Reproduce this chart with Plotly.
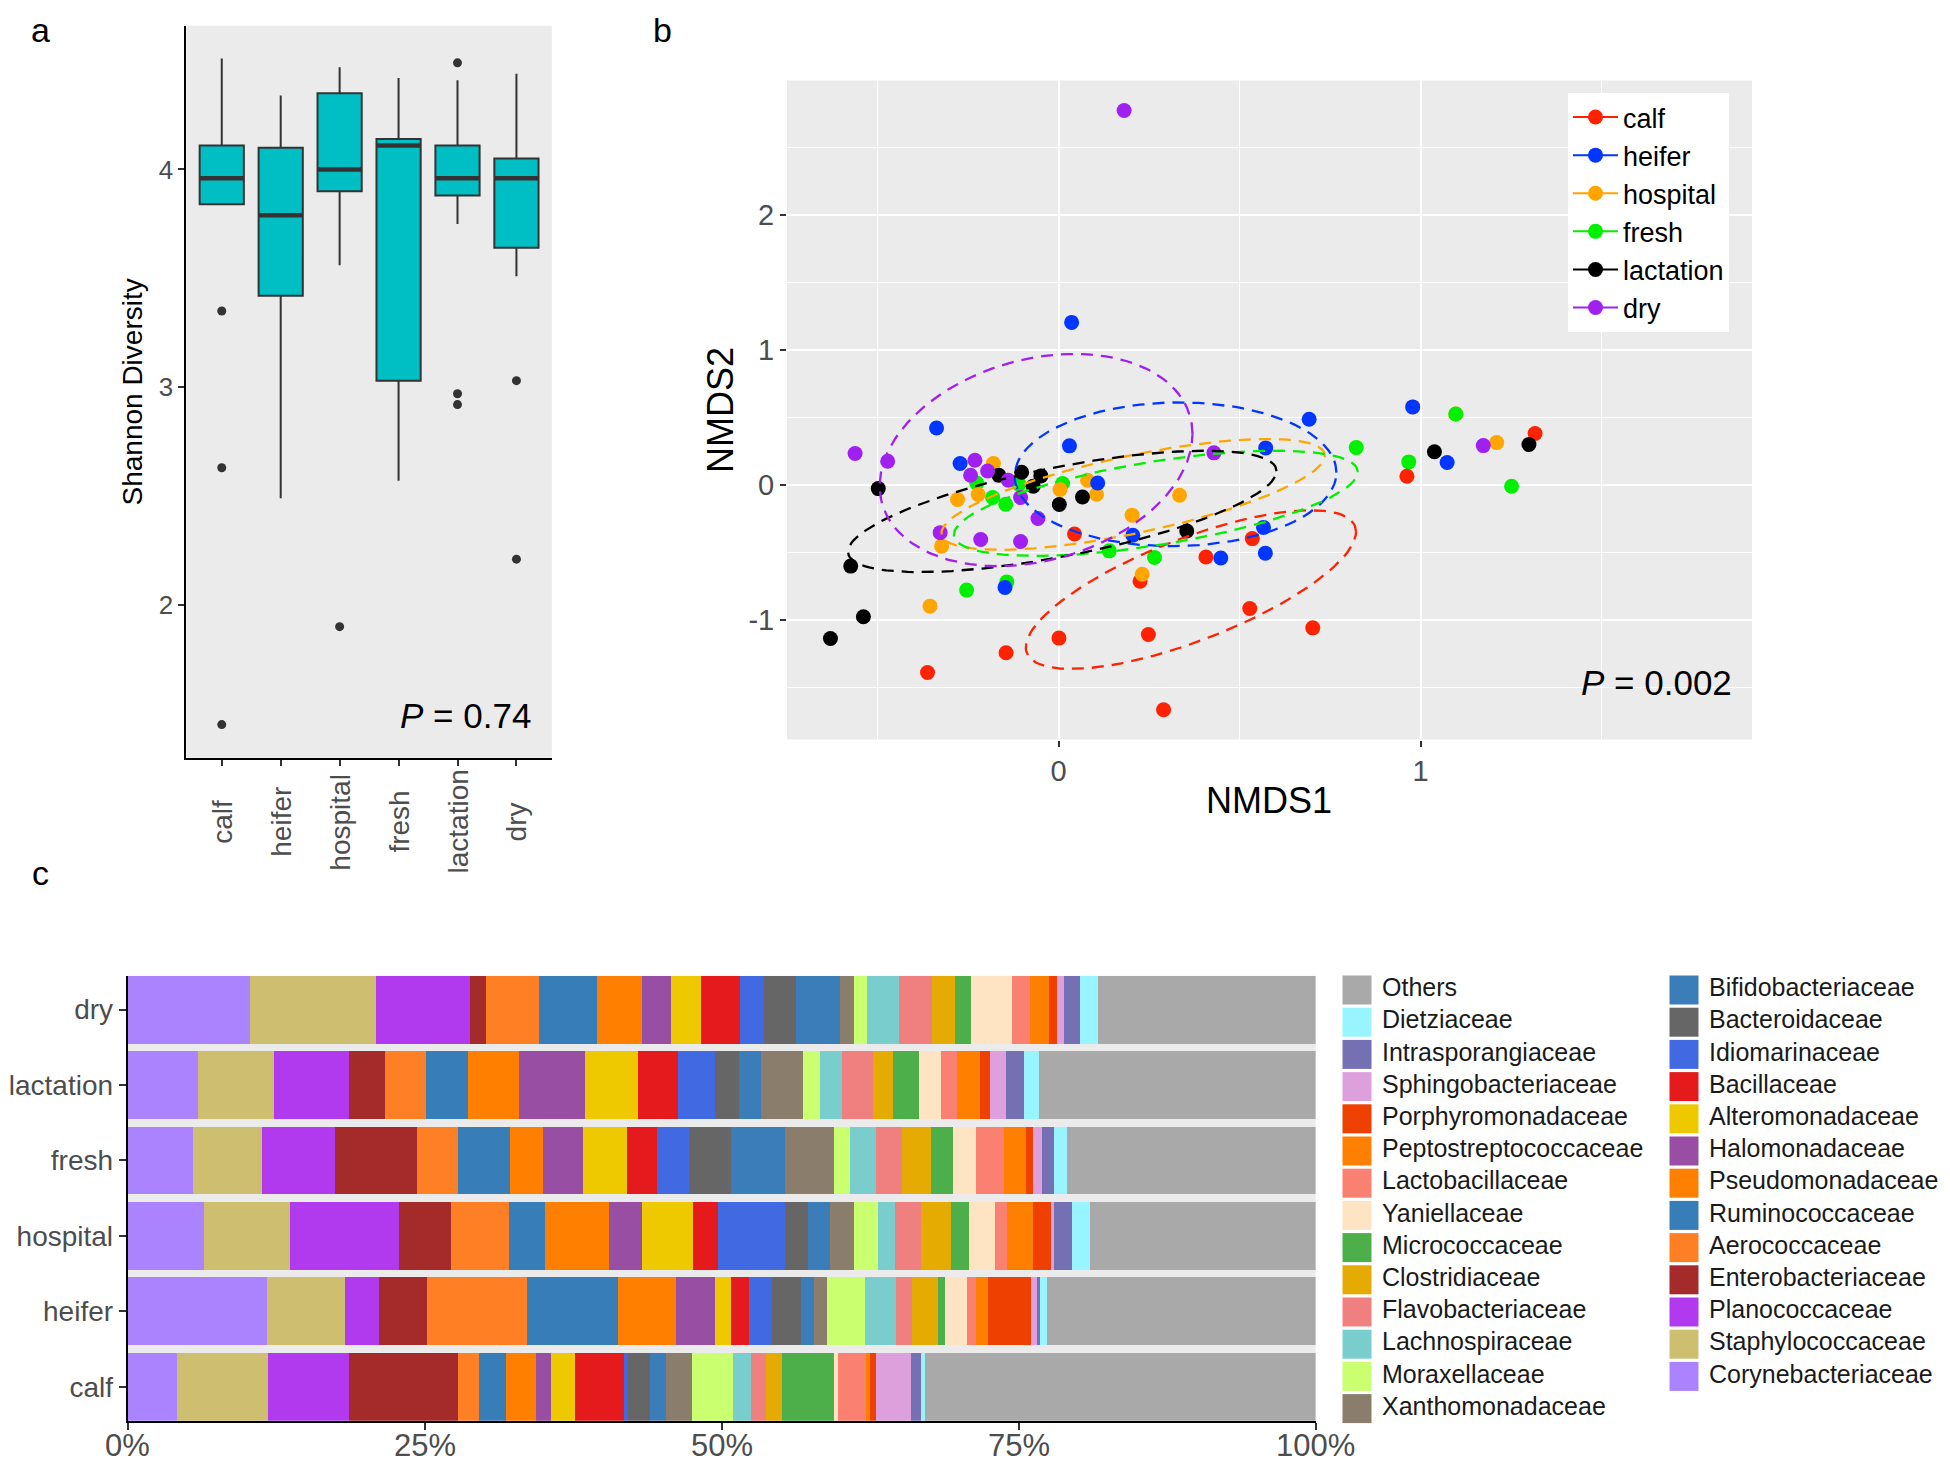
import numpy as np
import plotly.graph_objects as go

FONT = "Liberation Sans, Arial, sans-serif"
PAGE_W, PAGE_H = 1950, 1462
OFF = 8                      # default body margin of the html page
W, H = PAGE_W - OFF, PAGE_H - OFF

stages = ["calf", "heifer", "hospital", "fresh", "lactation", "dry"]
stage_colors = {"calf": "#FF2200", "heifer": "#0036FF", "hospital": "#FFA500",
                "fresh": "#00F000", "lactation": "#000000", "dry": "#A020F0"}

# ---- panel a: Shannon diversity (box stats)
shannon_q1 = [3.84, 3.42, 3.90, 3.03, 3.88, 3.64]
shannon_median = [3.96, 3.79, 4.00, 4.11, 3.96, 3.96]
shannon_q3 = [4.11, 4.10, 4.35, 4.14, 4.11, 4.05]
shannon_low = [3.84, 2.49, 3.56, 2.57, 3.75, 3.51]
shannon_high = [4.51, 4.34, 4.47, 4.42, 4.41, 4.44]
shannon_outliers = [[3.35, 2.63, 1.45], [], [1.90], [], [4.49, 2.97, 2.92], [3.03, 2.21]]

# ---- panel b: NMDS scores, one row per sample (plot order as in the figure)
nmds_stage = (["fresh"] * 12 + ["calf"] * 13 + ["hospital"] * 14 + ["heifer"] * 14
              + ["lactation"] * 13 + ["dry"] * 14 + ["fresh"])
nmds1 = [-0.226, -0.109, -0.182, -0.146, 0.011, 0.140, 0.265, -0.254, -0.143, 0.822, 0.967, 1.251,
         0.044, 0.535, 0.407, 0.225, 0.528, 0.702, 0.001, 0.248, -0.145, -0.362, 0.290, 1.316, 0.962,
         0.978, 1.097, -0.180, -0.222, -0.279, 0.004, 0.080, 0.105, 0.203, 0.334, -0.323, 0.231, -0.355, 1.210,
         0.036, -0.337, -0.272, 0.030, 0.108, 0.572, 0.692, 0.978, 1.073, 0.205, 0.566, 0.571, 0.448, -0.148,
         -0.498, -0.165, -0.102, -0.049, -0.070, 0.002, 0.066, 0.354, -0.574, -0.539, -0.630, 1.299, 1.038,
         0.181, -0.562, -0.472, -0.231, -0.243, -0.196, -0.139, -0.105, -0.057, -0.327, -0.215, -0.105, 0.429, 1.173,
         1.097]
nmds2 = [0.014, 0.004, -0.094, -0.144, 0.010, -0.490, -0.539, -0.781, -0.720, 0.276, 0.170, -0.011,
         -0.365, -0.399, -0.536, -0.715, -0.917, -1.061, -1.137, -1.110, -1.246, -1.392, -1.669, 0.381, 0.064,
         0.578, 0.525, 0.158, -0.072, -0.109, -0.035, 0.034, -0.070, -0.225, -0.077, -0.455, -0.663, -0.900, 0.313,
         1.205, 0.422, 0.158, 0.289, 0.014, 0.274, 0.486, 0.578, 0.165, -0.374, -0.316, -0.507, -0.543, -0.761,
         -0.028, 0.071, 0.093, 0.066, -0.010, -0.146, -0.090, -0.343, -0.603, -0.979, -1.140, 0.299, 0.245,
         2.777, 0.232, 0.175, 0.182, 0.071, 0.103, 0.034, -0.094, -0.250, -0.355, -0.406, -0.421, 0.237, 0.291,
         0.525]

# ---- panel c: relative abundance (%) per family, stacking order left -> right
families = ["Corynebacteriaceae", "Staphylococcaceae", "Planococcaceae", "Enterobacteriaceae",
            "Aerococcaceae", "Ruminococcaceae", "Pseudomonadaceae", "Halomonadaceae",
            "Alteromonadaceae", "Bacillaceae", "Idiomarinaceae", "Bacteroidaceae",
            "Bifidobacteriaceae", "Xanthomonadaceae", "Moraxellaceae", "Lachnospiraceae",
            "Flavobacteriaceae", "Clostridiaceae", "Micrococcaceae", "Yaniellaceae",
            "Lactobacillaceae", "Peptostreptococcaceae", "Porphyromonadaceae",
            "Sphingobacteriaceae", "Intrasporangiaceae", "Dietziaceae", "Others"]
family_colors = ["#AB82FF", "#CDBE70", "#B23AEE", "#A52A2A", "#FF7F24", "#377EB8", "#FF7F00",
                 "#984EA3", "#EEC900", "#E41A1C", "#4169E1", "#666666", "#3A7DB8", "#8B7D6B",
                 "#CAFF70", "#79CDCD", "#F08080", "#E6AB02", "#4DAF4A", "#FFE4C4", "#FA8072",
                 "#FF7F00", "#EE4000", "#DDA0DD", "#7570B3", "#98F5FF", "#A9A9A9"]
calf_pct = [4.14, 7.66, 6.85, 9.17, 1.77, 2.25, 2.52, 1.28, 1.99, 4.14, 0.37, 1.81, 1.35,
            2.22, 3.42, 1.54, 1.24, 1.39, 4.31, 0.39, 2.38, 0.26, 0.58, 2.87, 0.84, 0.42, 32.84]
heifer_pct = [11.69, 6.58, 2.90, 4.06, 8.38, 7.63, 4.89, 3.27, 1.39, 1.47, 2.01, 2.44, 1.03,
              1.10, 3.22, 2.62, 1.38, 2.13, 0.62, 1.87, 0.74, 0.97, 3.67, 0.52, 0.26, 0.58, 22.58]
hospital_pct = [6.39, 7.26, 9.17, 4.40, 4.89, 3.04, 5.34, 2.78, 4.29, 2.10, 5.70, 1.87, 1.87,
                2.03, 2.06, 1.42, 2.16, 2.55, 1.49, 2.19, 1.03, 2.16, 1.52, 0.26, 1.51, 1.49, 19.03]
fresh_pct = [5.49, 5.79, 6.16, 6.88, 3.46, 4.40, 2.74, 3.39, 3.72, 2.52, 2.74, 3.50, 4.54,
             4.15, 1.36, 2.19, 2.13, 2.45, 1.84, 1.94, 2.38, 1.81, 0.65, 0.71, 1.03, 1.06, 20.97]
lactation_pct = [5.94, 6.39, 6.28, 3.01, 3.49, 3.57, 4.29, 5.49, 4.51, 3.38, 3.12, 2.00, 1.84,
                 3.54, 1.45, 1.84, 2.58, 1.68, 2.19, 1.90, 1.36, 1.87, 0.87, 1.36, 1.51, 1.29, 23.25]
dry_pct = [10.26, 10.64, 7.93, 1.36, 4.43, 4.89, 3.80, 2.40, 2.52, 3.31, 2.00, 2.70, 3.70,
           1.16, 1.16, 2.64, 2.78, 1.93, 1.42, 3.42, 1.52, 1.61, 0.65, 0.61, 1.29, 1.52, 18.35]
stage_pct = [calf_pct, heifer_pct, hospital_pct, fresh_pct, lactation_pct, dry_pct]
pct_ticks = [0, 25, 50, 75, 100]
pct_labels = ["0%", "25%", "50%", "75%", "100%"]

TICK = "#4D4D4D"


def fx(p):
    # page pixel -> paper fraction
    return (p - OFF) / W


def fy(p):
    return 1 - (p - OFF) / H


fig = go.Figure()

# ---------------- panel a
pos = list(range(len(stages)))
fig.add_trace(go.Box(
    x=pos, q1=shannon_q1, median=shannon_median, q3=shannon_q3,
    lowerfence=shannon_low, upperfence=shannon_high, width=0.75, whiskerwidth=0,
    fillcolor="#00BFC4", line=dict(color="#333333", width=2), boxpoints=False,
    xaxis="x", yaxis="y", showlegend=False, hoverinfo="skip"))
mx, my = [], []
for i, m in enumerate(shannon_median):
    mx += [i - 0.37, i + 0.37, None]
    my += [m, m, None]
fig.add_trace(go.Scatter(x=mx, y=my, mode="lines", line=dict(color="#333333", width=4.5),
                         xaxis="x", yaxis="y", showlegend=False, hoverinfo="skip"))
ox = [i for i, vals in enumerate(shannon_outliers) for _ in vals]
oy = [v for vals in shannon_outliers for v in vals]
fig.add_trace(go.Scatter(x=ox, y=oy, mode="markers", marker=dict(color="#333333", size=9),
                         xaxis="x", yaxis="y", showlegend=False))

# ---------------- panel b
fig.add_trace(go.Scatter(
    x=nmds1, y=nmds2, mode="markers",
    marker=dict(color=[stage_colors[s] for s in nmds_stage], size=15),
    xaxis="x2", yaxis="y2", showlegend=False))

theta = np.linspace(0, 2 * np.pi, 120)
circle = np.column_stack([np.cos(theta), np.sin(theta)])
for s in stages:
    pts = np.array([[a, b] for a, b, g in zip(nmds1, nmds2, nmds_stage) if g == s])
    center = pts.mean(axis=0)
    chol = np.linalg.cholesky(np.cov(pts.T)).T
    ell = center + circle @ chol
    fig.add_trace(go.Scatter(x=ell[:, 0], y=ell[:, 1], mode="lines",
                             line=dict(color=stage_colors[s], width=2.3, dash="12px,8px"),
                             xaxis="x2", yaxis="y2", showlegend=False, hoverinfo="skip"))

for s in stages:
    fig.add_trace(go.Scatter(x=[None], y=[None], mode="lines+markers", name=s,
                             line=dict(color=stage_colors[s], width=2),
                             marker=dict(color=stage_colors[s], size=15),
                             xaxis="x2", yaxis="y2", legend="legend"))

# ---------------- panel c
for j, fam in enumerate(families):
    fig.add_trace(go.Bar(
        y=stages, x=[p[j] for p in stage_pct], orientation="h", name=fam,
        marker=dict(color=family_colors[j], line=dict(width=0)),
        xaxis="x3", yaxis="y3", showlegend=False))

# family key, two columns (Others first, as in the figure)
key_order = list(reversed(range(len(families))))
key_col = [k // 14 for k in range(len(key_order))]
key_row = [k % 14 for k in range(len(key_order))]
key_sq_x = [27 + 327 * c for c in key_col]
key_tx_x = [52 + 327 * c for c in key_col]
key_y = [40 + 32.2 * r for r in key_row]
fig.add_trace(go.Scatter(
    x=key_sq_x, y=key_y, mode="markers",
    marker=dict(symbol="square", size=29, color=[family_colors[j] for j in key_order],
                line=dict(width=0)),
    xaxis="x4", yaxis="y4", showlegend=False, hoverinfo="skip"))
fig.add_trace(go.Scatter(
    x=key_tx_x, y=key_y, mode="text", text=[families[j] for j in key_order],
    textposition="middle right", textfont=dict(size=25, color="#1A1A1A", family=FONT),
    xaxis="x4", yaxis="y4", showlegend=False, hoverinfo="skip"))

# ---------------- backgrounds
shapes = []
for xr, yr in [("x", "y"), ("x2", "y2"), ("x3", "y3")]:
    shapes.append(dict(type="rect", xref=f"{xr} domain", yref=f"{yr} domain",
                       x0=0, x1=1, y0=0, y1=1, fillcolor="#EBEBEB",
                       line=dict(width=0), layer="below"))


def label(text, x, y, size, color="black", angle=0, xanchor="center"):
    return dict(text=text, x=fx(x), y=fy(y), xref="paper", yref="paper",
                xanchor=xanchor, yanchor="middle", textangle=angle,
                showarrow=False, font=dict(size=size, color=color))


ann = [label("a", 40, 30, 34), label("b", 662, 30, 34), label("c", 40, 873, 34),
       label("Shannon Diversity", 131.5, 392, 28, angle=-90),
       label("NMDS1", 1269, 800, 36),
       label("NMDS2", 720, 410, 36, angle=-90),
       label("<i>P</i> = 0.74", 533, 716, 35, xanchor="right"),
       label("<i>P</i> = 0.002", 1734, 683, 35, xanchor="right")]
# rotated stage labels under panel a, centred like the original
for i, s in enumerate(stages):
    ann.append(dict(text=s, x=i, y=fy(822), xref="x", yref="paper", textangle=-90,
                    xanchor="center", yanchor="middle",
                    showarrow=False, font=dict(size=28, color=TICK)))
# percent labels under panel c (kept inside the page)
for v, t in zip(pct_ticks, pct_labels):
    ann.append(dict(text=t, x=v, y=fy(1445), xref="x3", yref="paper",
                    xanchor="center", yanchor="middle",
                    showarrow=False, font=dict(size=31, color=TICK)))

tick_common = dict(ticks="outside", tickcolor="#333333", tickwidth=1.5, zeroline=False,
                   automargin=False)

fig.update_layout(
    width=W, height=H, margin=dict(l=0, r=0, t=0, b=0, autoexpand=False),
    paper_bgcolor="white", plot_bgcolor="white",
    font=dict(family=FONT, color="black"),
    barmode="stack", bargap=0.1,
    shapes=shapes, annotations=ann,
    legend=dict(x=fx(1568), y=fy(93), xanchor="left", yanchor="top", traceorder="normal",
                bgcolor="white", borderwidth=0, font=dict(size=27, color="black"),
                itemwidth=45, tracegroupgap=0),
    xaxis=dict(domain=[fx(186.4), fx(551.8)], range=[-0.6, 5.6], tickvals=pos,
               showticklabels=False, ticklen=6, showline=True, linecolor="black", linewidth=2,
               showgrid=False, anchor="y", **tick_common),
    yaxis=dict(domain=[fy(757.7), fy(25.8)], range=[1.298, 4.66], tickvals=[2, 3, 4],
               ticklen=6, tickfont=dict(size=26, color=TICK), showline=True,
               linecolor="black", linewidth=2, showgrid=False, anchor="x", **tick_common),
    xaxis2=dict(domain=[fx(787), fx(1752)], range=[-0.75, 1.915], tickvals=[0, 1],
                ticktext=["0", "1"], ticklen=6, tickfont=dict(size=29, color=TICK),
                showgrid=True, gridcolor="white", gridwidth=2.2, showline=False,
                minor=dict(tickmode="array", tickvals=[-0.5, 0.5, 1.5], showgrid=True,
                           gridcolor="white", gridwidth=1.1, ticks=""),
                anchor="y2", **tick_common),
    yaxis2=dict(domain=[fy(739.6), fy(80.4)], range=[-1.89, 3.0], tickvals=[-1, 0, 1, 2],
                ticktext=["-1", "0", "1", "2"], ticklen=6, tickfont=dict(size=29, color=TICK),
                showgrid=True, gridcolor="white", gridwidth=2.2, showline=False,
                minor=dict(tickmode="array", tickvals=[-1.5, -0.5, 0.5, 1.5, 2.5], showgrid=True,
                           gridcolor="white", gridwidth=1.1, ticks=""),
                anchor="x2", **tick_common),
    xaxis3=dict(domain=[fx(127.7), fx(1315.6)], range=[0, 100], tickvals=pct_ticks,
                showticklabels=False, ticklen=7,
                showline=True, linecolor="black", linewidth=2, showgrid=False,
                anchor="y3", **tick_common),
    yaxis3=dict(domain=[fy(1420.7), fy(975.7)], type="category", categoryorder="array",
                categoryarray=stages, range=[-0.45, 5.45], ticklen=7,
                tickfont=dict(size=28, color=TICK), showline=True, linecolor="black",
                linewidth=2, showgrid=False, anchor="x3", **tick_common),
    xaxis4=dict(domain=[fx(1330), fx(1950)], range=[0, 620], visible=False, anchor="y4"),
    yaxis4=dict(domain=[fy(1440), fy(950)], range=[490, 0], visible=False, anchor="x4"),
)

fig.write_html("out.html")
